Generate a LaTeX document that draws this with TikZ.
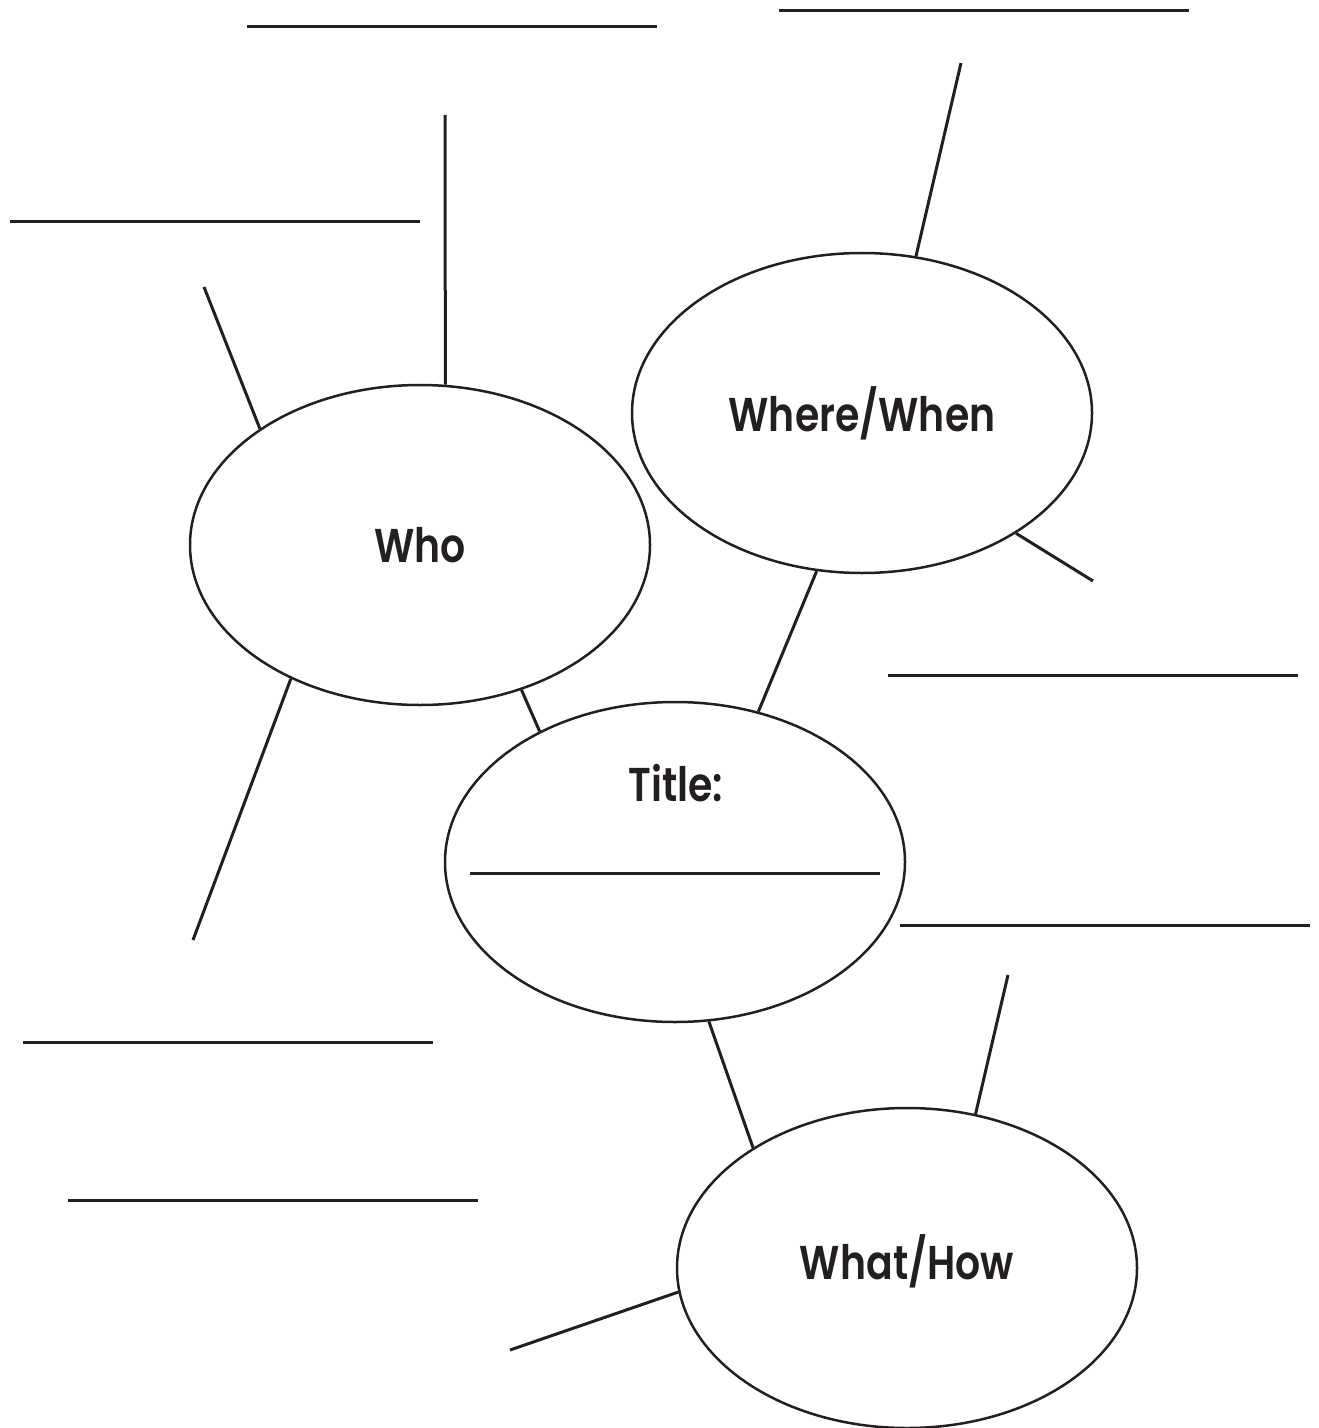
\documentclass[tikz,border=0pt]{standalone}
\usepackage{fontspec}
\usetikzlibrary{shapes.geometric}
\newfontfamily\bubblefont{Poppins SemiBold}[FakeStretch=0.83]
\definecolor{ink}{HTML}{231F20}

\tikzset{
  bubble/.style={draw=ink, line width=0.5mm, ellipse, minimum width=92mm,
    minimum height=64mm, inner sep=0pt, text=ink,
    font=\bubblefont\fontsize{27}{27}\selectfont},
  bubbletext/.style={text=ink, inner sep=0pt, font=\bubblefont\fontsize{27}{27}\selectfont},
  spoke/.style={draw=ink, line width=0.6mm},
  blank/.style={draw=ink, line width=0.6mm}
}

\begin{document}
\begin{tikzpicture}[x=0.2mm, y=-0.2mm]
\useasboundingbox (0,0) rectangle (1318,1428);

\node [bubble] (who) at (420,545) {Who};
\node [bubble] (wherewhen) at (862,413) {Where/When};
\node [bubble] (title) at (675,862) {};
\node [bubbletext] (titlelabel) at (676,783) {Title:};
\node [bubble] (whathow) at (907,1268) {\raisebox{22\dimexpr0.2mm\relax}{What/How}};

\coordinate (whoA) at (445,115);
\coordinate (whoB) at (204,287);
\coordinate (whoC) at (193,940);
\coordinate (wwA) at (961,63);
\coordinate (wwB) at (1093,581);
\coordinate (whA) at (1008,975);
\coordinate (whB) at (510,1350);

\draw [spoke] (who.81) -- (whoA);
\draw [spoke] (who.144) -- (whoB);
\draw [spoke] (who.226) -- (whoC);
\draw [spoke] (who.305) -- (title.136);
\draw [spoke] (wherewhen.71) -- (wwA);
\draw [spoke] (wherewhen.322) -- (wwB);
\draw [spoke] (wherewhen.254) -- (title.61);
\draw [spoke] (title.282) -- (whathow.142);
\draw [spoke] (whathow.66) -- (whA);
\draw [spoke] (whathow.186) -- (whB);

\foreach \bx/\by in {247/27, 779/11, 10/222, 888/675, 470/873, 900/925, 23/1042, 68/1200}
  \draw [blank] (\bx,\by) -- ++(410,0);

\end{tikzpicture}
\end{document}
